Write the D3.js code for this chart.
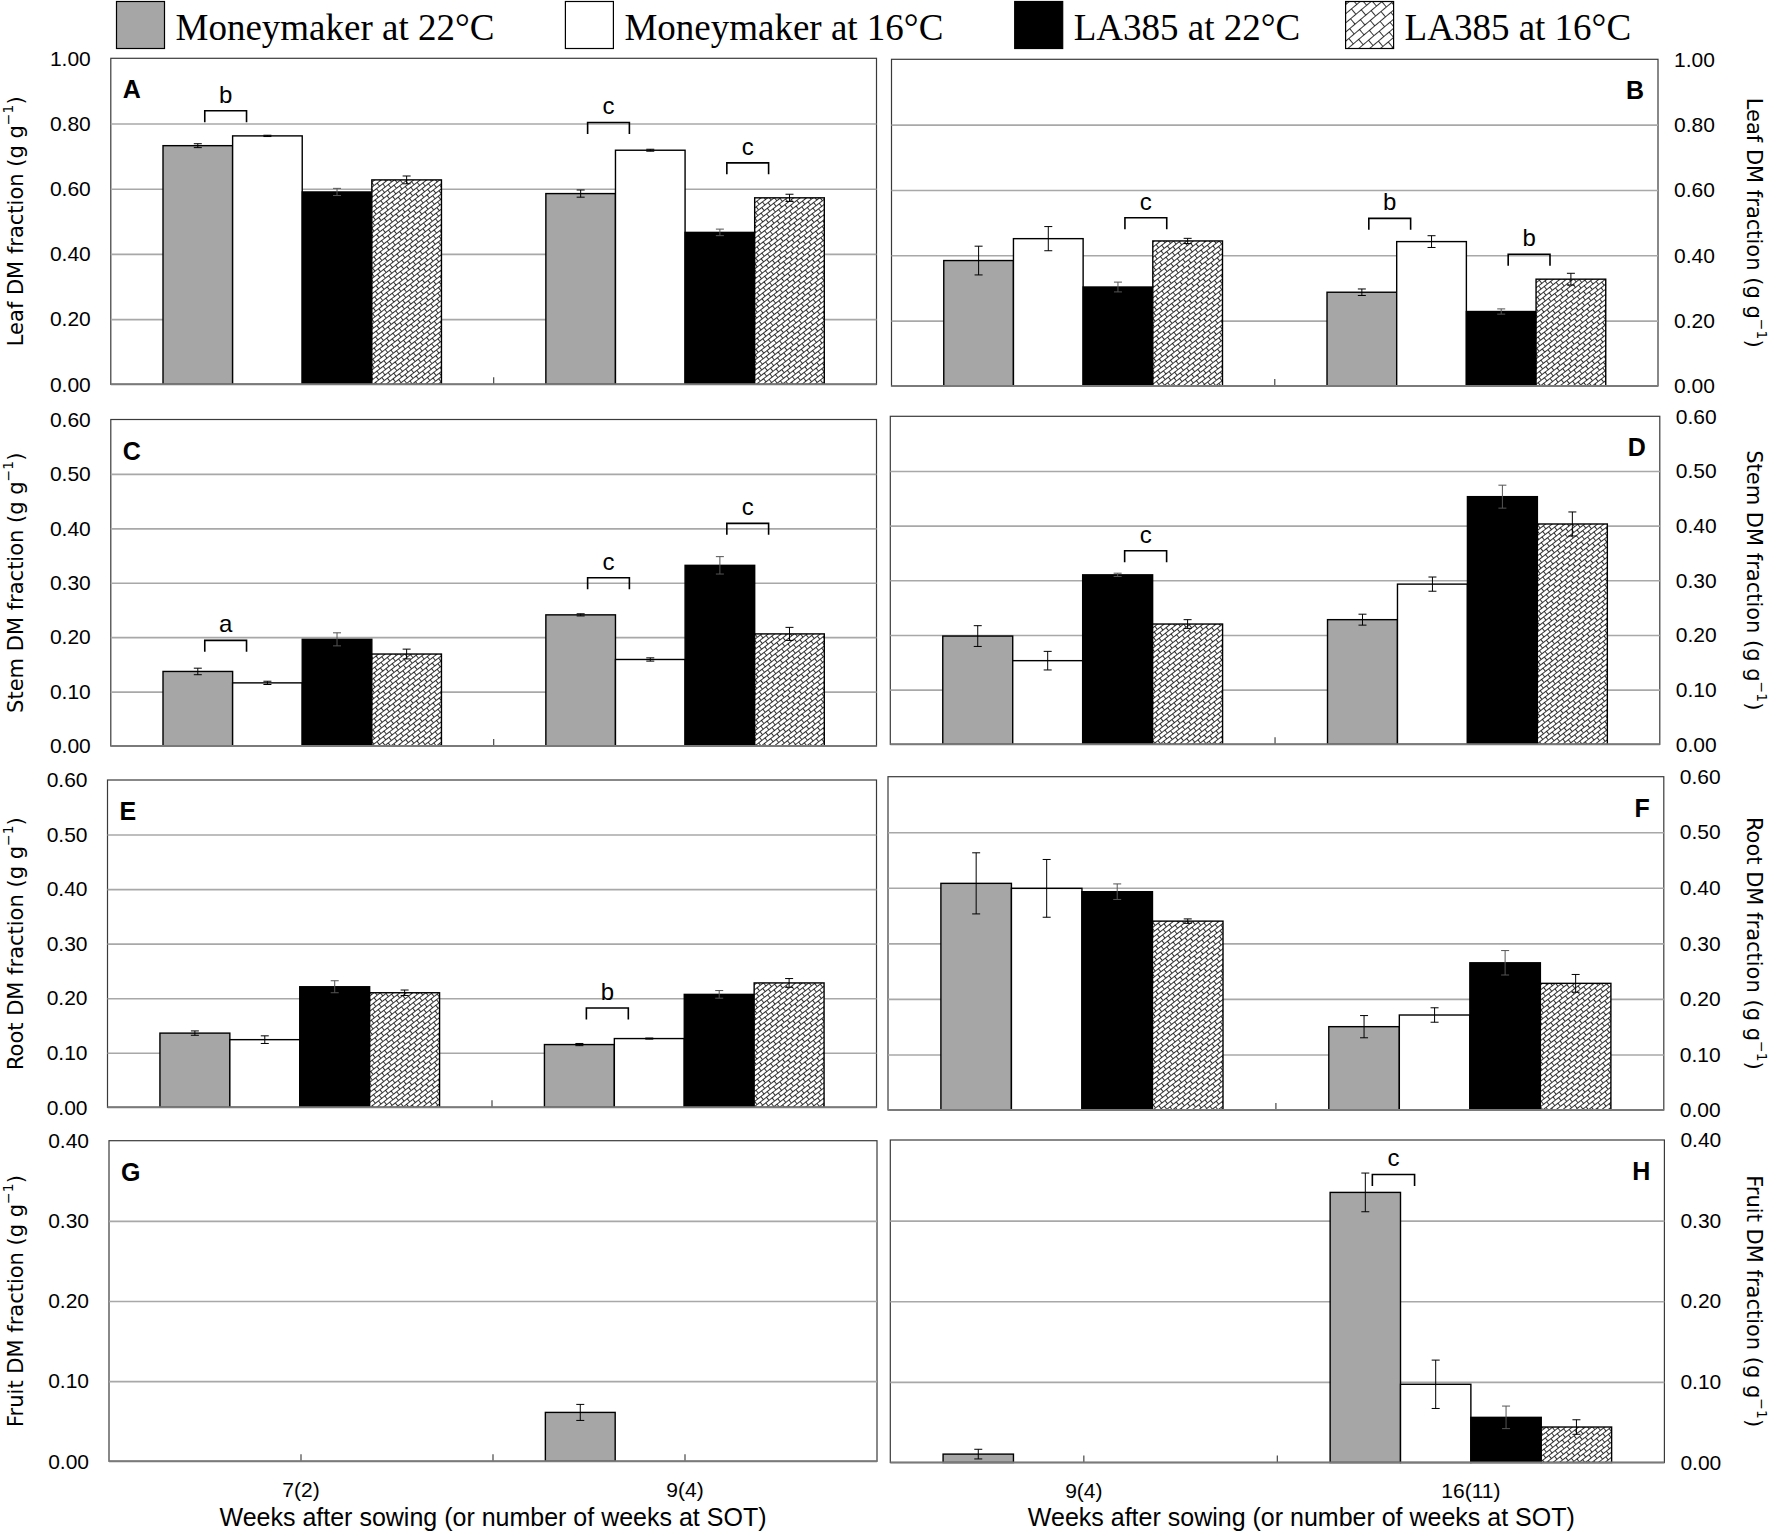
<!DOCTYPE html>
<html>
<head>
<meta charset="utf-8">
<script src="https://cdn.jsdelivr.net/npm/d3@7"></script>
<style>
  body { margin: 0; background: #fff; }
  svg { display: block; }
</style>
</head>
<body>
<svg id="chart"></svg>
<script>
// ---- data ----
const series = ["Moneymaker at 22°C", "Moneymaker at 16°C", "LA385 at 22°C", "LA385 at 16°C"];
const groupsEarly = ["7(2)", "9(4)"];
const groupsLate = ["9(4)", "16(11)"];

// [group][series]
const leafEarly    = [[0.732, 0.762, 0.590, 0.627], [0.585, 0.718, 0.466, 0.572]];
const leafEarlyErr = [[0.006, 0.002, 0.011, 0.012], [0.011, 0.003, 0.010, 0.011]];
const leafLate     = [[0.384, 0.451, 0.303, 0.444], [0.287, 0.442, 0.228, 0.327]];
const leafLateErr  = [[0.044, 0.037, 0.015, 0.008], [0.010, 0.018, 0.008, 0.018]];

const stemEarly    = [[0.137, 0.116, 0.196, 0.169], [0.241, 0.159, 0.332, 0.206]];
const stemEarlyErr = [[0.006, 0.003, 0.012, 0.009], [0.002, 0.003, 0.016, 0.012]];
const stemLate     = [[0.198, 0.153, 0.310, 0.220], [0.228, 0.293, 0.453, 0.403]];
const stemLateErr  = [[0.019, 0.017, 0.003, 0.008], [0.010, 0.013, 0.021, 0.022]];

const rootEarly    = [[0.136, 0.124, 0.221, 0.210], [0.115, 0.126, 0.207, 0.228]];
const rootEarlyErr = [[0.004, 0.007, 0.011, 0.005], [0.002, 0.001, 0.007, 0.008]];
const rootLate     = [[0.408, 0.399, 0.393, 0.340], [0.150, 0.171, 0.265, 0.228]];
const rootLateErr  = [[0.055, 0.052, 0.014, 0.004], [0.020, 0.013, 0.022, 0.016]];

const fruitEarly    = [[null, null, null, null], [0.061, null, null, null]];
const fruitEarlyErr = [[null, null, null, null], [0.010, null, null, null]];
const fruitLate     = [[0.0104, null, null, null], [0.335, 0.097, 0.056, 0.044]];
const fruitLateErr  = [[0.006, null, null, null], [0.024, 0.030, 0.014, 0.009]];

// significance brackets: [group index, first series of the pair, letter, level]
const sigA = [[0, 0, "b", 0.804], [1, 0, "c", 0.768], [1, 2, "c", 0.644]];
const sigB = [[0, 2, "c", 0.480], [1, 0, "b", 0.478], [1, 2, "b", 0.368]];
const sigC = [[0, 0, "a", 0.173], [1, 0, "c", 0.288], [1, 2, "c", 0.388]];
const sigD = [[0, 2, "c", 0.333]];
const sigE = [[1, 0, "b", 0.161]];
const sigH = [[1, 0, "c", 0.343]];

const leafTicks = [0, 0.2, 0.4, 0.6, 0.8, 1.0];
const stemTicks = [0, 0.1, 0.2, 0.3, 0.4, 0.5, 0.6];
const fruitTicks = [0, 0.1, 0.2, 0.3, 0.4];

const xTitle = "Weeks after sowing (or number of weeks at SOT)";

// ---- layout ----
const width = 1779, height = 1533;
const fills = ["#a6a6a6", "#ffffff", "#000000", "url(#brick)"];
const sansFont = "'Liberation Sans', Arial, sans-serif";
const titleFont = "'DejaVu Sans', Verdana, sans-serif";

const panels = [
  { id: "A", side: "left",  x0: 110.8, x1: 876.5, y0: 58.3,   y1: 384.3,  groups: groupsEarly, vals: leafEarly,  errs: leafEarlyErr,  ticks: leafTicks,  sig: sigA, name: "Leaf" },
  { id: "B", side: "right", x0: 891.5, x1: 1658,  y0: 59.3,   y1: 386,    groups: groupsLate,  vals: leafLate,   errs: leafLateErr,   ticks: leafTicks,  sig: sigB, name: "Leaf" },
  { id: "C", side: "left",  x0: 110.8, x1: 876.5, y0: 419.5,  y1: 746,    groups: groupsEarly, vals: stemEarly,  errs: stemEarlyErr,  ticks: stemTicks,  sig: sigC, name: "Stem" },
  { id: "D", side: "right", x0: 890.3, x1: 1659.8, y0: 416.3, y1: 744.3,  groups: groupsLate,  vals: stemLate,   errs: stemLateErr,   ticks: stemTicks,  sig: sigD, name: "Stem" },
  { id: "E", side: "left",  x0: 107.5, x1: 876.5, y0: 780,    y1: 1107.3, groups: groupsEarly, vals: rootEarly,  errs: rootEarlyErr,  ticks: stemTicks,  sig: sigE, name: "Root" },
  { id: "F", side: "right", x0: 888,   x1: 1663.8, y0: 776.7, y1: 1110,   groups: groupsLate,  vals: rootLate,   errs: rootLateErr,   ticks: stemTicks,  sig: [],   name: "Root" },
  { id: "G", side: "left",  x0: 109,   x1: 877,   y0: 1140.7, y1: 1461.3, groups: groupsEarly, vals: fruitEarly, errs: fruitEarlyErr, ticks: fruitTicks, sig: [],   name: "Fruit", bottom: true },
  { id: "H", side: "right", x0: 890.3, x1: 1664.4, y0: 1140,  y1: 1462.5, groups: groupsLate,  vals: fruitLate,  errs: fruitLateErr,  ticks: fruitTicks, sig: sigH, name: "Fruit", bottom: true, titleShift: 24 }
];

const svg = d3.select("#chart")
  .attr("width", width)
  .attr("height", height)
  .attr("viewBox", [0, 0, width, height]);

// hatch patterns (diagonal brick)
const defs = svg.append("defs");
function brickPattern(id, s, angle) {
  const p = defs.append("pattern")
    .attr("id", id)
    .attr("patternUnits", "userSpaceOnUse")
    .attr("width", 2 * s)
    .attr("height", 2 * s)
    .attr("patternTransform", `rotate(${angle})`);
  p.append("rect").attr("width", 2 * s).attr("height", 2 * s).attr("fill", "#fff");
  p.append("path")
    .attr("d", `M0,0.5H${2 * s} M0,${s + 0.5}H${2 * s} M0.5,0.5V${s + 0.5} M${s + 0.5},${s + 0.5}V${2 * s + 0.5}`)
    .attr("stroke", "#000")
    .attr("stroke-width", 0.8)
    .attr("fill", "none");
}
brickPattern("brick", 4, -38);
brickPattern("brickBig", 7, -40);

// ---- legend ----
const legendBoxX = [116.5, 565.4, 1014.7, 1345.6];
const legendFills = ["#a6a6a6", "#ffffff", "#000000", "url(#brickBig)"];
const legend = svg.append("g");
series.forEach((s, i) => {
  legend.append("rect")
    .attr("x", legendBoxX[i])
    .attr("y", 1.5)
    .attr("width", 48)
    .attr("height", 47)
    .attr("fill", legendFills[i])
    .attr("stroke", "#000")
    .attr("stroke-width", 1.2);
  legend.append("text")
    .attr("x", legendBoxX[i] + 59)
    .attr("y", 40)
    .attr("font-family", "'Liberation Serif', 'Times New Roman', serif")
    .attr("font-size", 37)
    .text(s);
});

// ---- panels ----
panels.forEach(drawPanel);

function drawPanel(p) {
  const g = svg.append("g");
  const yMax = p.ticks[p.ticks.length - 1];

  const y = d3.scaleLinear().domain([0, yMax]).range([p.y1, p.y0]);
  const xGroup = d3.scaleBand().domain(p.groups).range([p.x0, p.x1]).padding(0);
  const xSeries = d3.scaleBand().domain(series).range([0, xGroup.bandwidth()])
    .paddingInner(0).paddingOuter(0.75);
  const bw = xSeries.bandwidth();

  // plot frame
  g.append("rect")
    .attr("x", p.x0).attr("y", p.y0)
    .attr("width", p.x1 - p.x0).attr("height", p.y1 - p.y0)
    .attr("fill", "#fff")
    .attr("stroke", "#3a3a3a")
    .attr("stroke-width", 1.2);

  // gridlines
  const grid = g.append("g")
    .attr("transform", `translate(${p.x0},0)`)
    .call(d3.axisLeft(y).tickValues(p.ticks.slice(1, -1)).tickSize(-(p.x1 - p.x0)).tickFormat(""));
  grid.select(".domain").remove();
  grid.selectAll("line").attr("stroke", "#a8a8a8").attr("stroke-width", 1.6);

  // tick labels
  const labelAxis = p.side === "left"
    ? d3.axisLeft(y).tickValues(p.ticks).tickSize(0).tickPadding(20)
    : d3.axisRight(y).tickValues(p.ticks).tickSize(0).tickPadding(16);
  const la = g.append("g")
    .attr("transform", `translate(${p.side === "left" ? p.x0 : p.x1},0)`)
    .call(labelAxis.tickFormat(d3.format(".2f")));
  la.select(".domain").remove();
  la.selectAll("text")
    .attr("font-family", sansFont)
    .attr("font-size", 21)
    .attr("fill", "#000");

  // category ticks on the baseline
  const tickXs = [xGroup(p.groups[0]) + xGroup.bandwidth() / 2, xGroup(p.groups[1]), xGroup(p.groups[1]) + xGroup.bandwidth() / 2];
  g.selectAll("line.cat")
    .data(tickXs)
    .join("line")
    .attr("class", "cat")
    .attr("x1", d => d).attr("x2", d => d)
    .attr("y1", y(0)).attr("y2", y(0) - 7)
    .attr("stroke", "#555")
    .attr("stroke-width", 1.3);

  // bars
  const cells = [];
  p.groups.forEach((grp, gi) => {
    series.forEach((s, si) => {
      const v = p.vals[gi][si];
      if (v === null) return;
      cells.push({ grp, s, si, v, e: p.errs[gi][si] });
    });
  });

  g.selectAll("rect.bar")
    .data(cells)
    .join("rect")
    .attr("class", "bar")
    .attr("x", d => xGroup(d.grp) + xSeries(d.s))
    .attr("y", d => y(d.v))
    .attr("width", bw)
    .attr("height", d => y(0) - y(d.v))
    .attr("fill", d => fills[d.si])
    .attr("stroke", "#000")
    .attr("stroke-width", 1.4);

  // baseline
  g.append("line")
    .attr("x1", p.x0).attr("x2", p.x1)
    .attr("y1", y(0)).attr("y2", y(0))
    .attr("stroke", "#7a7a7a")
    .attr("stroke-width", 2);

  // error bars
  const err = g.selectAll("g.err")
    .data(cells.filter(d => d.e))
    .join("g")
    .attr("class", "err")
    .attr("transform", d => `translate(${xGroup(d.grp) + xSeries(d.s) + bw / 2},0)`)
    .attr("stroke", d => d.si === 2 ? "#555" : "#000")
    .attr("stroke-width", 1);
  err.append("line")
    .attr("y1", d => y(d.v - d.e)).attr("y2", d => y(d.v + d.e));
  err.append("line")
    .attr("x1", -4).attr("x2", 4)
    .attr("y1", d => y(d.v + d.e)).attr("y2", d => y(d.v + d.e));
  err.append("line")
    .attr("x1", -4).attr("x2", 4)
    .attr("y1", d => y(d.v - d.e)).attr("y2", d => y(d.v - d.e));

  // significance brackets
  p.sig.forEach(([gi, si, letter, level]) => {
    const bx = xGroup(p.groups[gi]) + xSeries(series[si + 1]);
    const xa = bx - 0.4 * bw, xb = bx + 0.2 * bw;
    const yb = y(level), yt = yb - 11.5;
    g.append("path")
      .attr("d", `M${xa},${yb}V${yt}H${xb}V${yb}`)
      .attr("fill", "none")
      .attr("stroke", "#000")
      .attr("stroke-width", 1.6);
    g.append("text")
      .attr("x", (xa + xb) / 2)
      .attr("y", yt - 8)
      .attr("text-anchor", "middle")
      .attr("font-family", sansFont)
      .attr("font-size", 24)
      .text(letter);
  });

  // panel letter
  g.append("text")
    .attr("x", p.side === "left" ? p.x0 + 12 : p.x1 - 14)
    .attr("y", p.y0 + 40)
    .attr("text-anchor", p.side === "left" ? "start" : "end")
    .attr("font-family", sansFont)
    .attr("font-weight", "bold")
    .attr("font-size", 25)
    .text(p.id);

  // y axis title
  const cy = (p.y0 + p.y1) / 2;
  const tx = p.side === "left" ? 15.5 : 1754;
  const t = g.append("text")
    .attr("transform", `translate(${tx},${cy}) rotate(${p.side === "left" ? -90 : 90})`)
    .attr("text-anchor", "middle")
    .attr("dominant-baseline", "central")
    .attr("font-family", titleFont)
    .attr("font-size", 21);
  t.append("tspan").text(`${p.name} DM fraction (g g`);
  t.append("tspan").attr("baseline-shift", "super").attr("font-size", 14).text("−1");
  t.append("tspan").text(")");

  // x axis labels for the bottom row
  if (p.bottom) {
    const xa = g.append("g")
      .attr("transform", `translate(0,${p.y1})`)
      .call(d3.axisBottom(xGroup).tickSize(0).tickPadding(21));
    xa.select(".domain").remove();
    xa.selectAll("text")
      .attr("font-family", sansFont)
      .attr("font-size", 21)
      .attr("fill", "#000");
    g.append("text")
      .attr("x", (p.x0 + p.x1) / 2 + (p.titleShift || 0))
      .attr("y", 1526)
      .attr("text-anchor", "middle")
      .attr("font-family", sansFont)
      .attr("font-size", 25)
      .text(xTitle);
  }
}
</script>
</body>
</html>
